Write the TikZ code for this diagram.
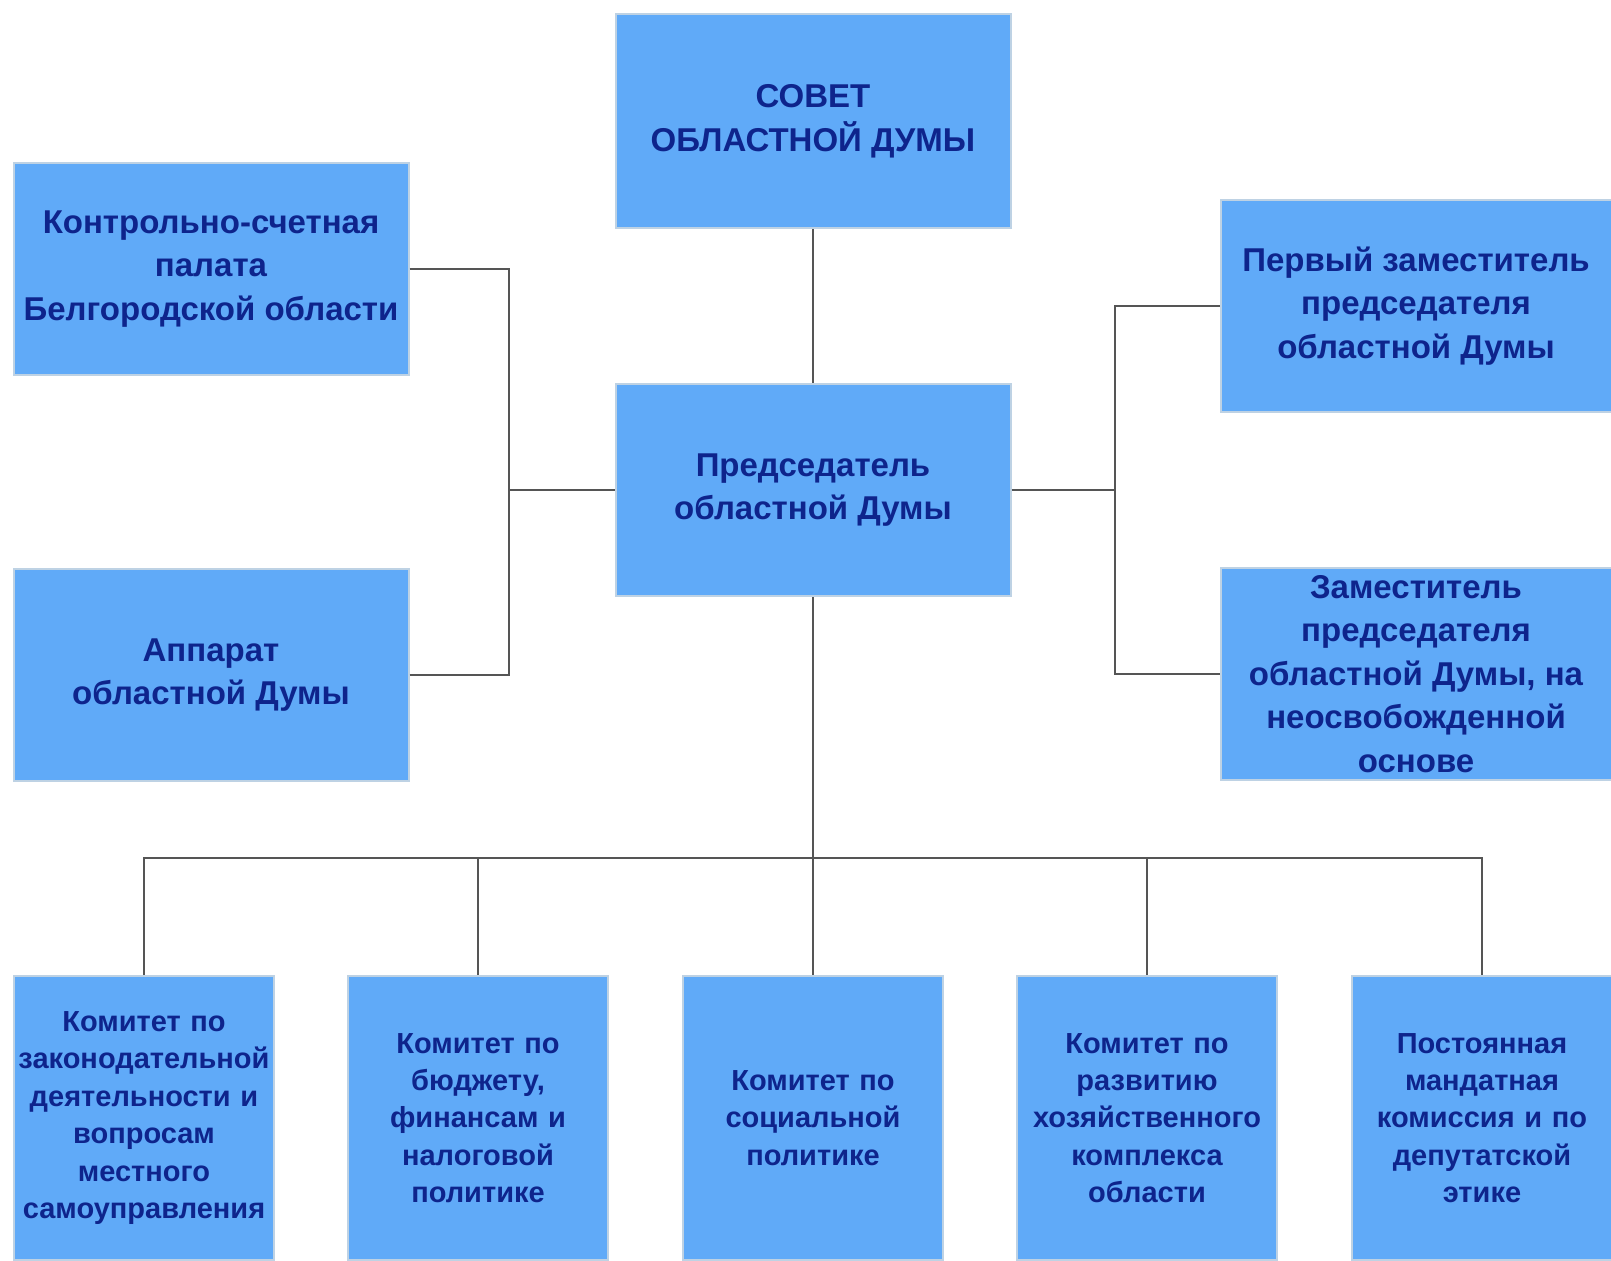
\documentclass[tikz,border=0pt]{standalone}
\usepackage{fontspec}
\setmainfont{Liberation Sans}
\usetikzlibrary{positioning}
\definecolor{dumablue}{RGB}{96,170,248}
\definecolor{dumatext}{RGB}{14,36,140}
\definecolor{dumaedge}{RGB}{190,210,228}
\definecolor{dumaline}{RGB}{85,85,85}

\begin{document}
\begin{tikzpicture}[
  x=0.5pt,y=-0.5pt,
  bigbox/.style={rectangle,draw=dumaedge,line width=1pt,fill=dumablue,text=dumatext,
        font=\fontsize{16.5}{21.8}\selectfont\bfseries,align=center,
        minimum width=197.5pt,minimum height=106pt,inner sep=2pt},
  kombox/.style={rectangle,draw=dumaedge,line width=1pt,fill=dumablue,text=dumatext,
        font=\fontsize{14.5}{18.7}\selectfont\bfseries,align=center,
        text width=126pt,minimum width=130pt,minimum height=142pt,inner sep=2pt},
  link/.style={draw=dumaline,line width=1pt}
]
\fill[white] (0,0) rectangle (1611,1260);
\useasboundingbox (0,0) rectangle (1611,1260);
\node[bigbox,minimum height=107pt] (sovet) at (813,121) {СОВЕТ\\ОБЛАСТНОЙ ДУМЫ};
\node[bigbox] (pred) at (813,490) {Председатель\\областной Думы};
\node[bigbox] (kontr) at (211,269) {Контрольно-счетная\\палата\\Белгородской области};
\node[bigbox] (apparat) at (211,675) {Аппарат\\областной Думы};
\node[bigbox,minimum width=195.5pt] (perv) at (1416,306) {Первый заместитель\\председателя\\областной Думы};
\node[bigbox,minimum width=195.5pt] (zam) at (1416,674) {Заместитель\\председателя\\областной Думы, на\\неосвобожденной\\основе};
\node[kombox] (kom1) at (144,1118) {Комитет по\\законодательной\\деятельности и\\вопросам\\местного\\самоуправления};
\node[kombox] (kom2) at (478,1118) {Комитет по\\бюджету,\\финансам и\\налоговой\\политике};
\node[kombox] (kom3) at (813,1118) {Комитет по\\социальной\\политике};
\node[kombox] (kom4) at (1147,1118) {Комитет по\\развитию\\хозяйственного\\комплекса\\области};
\node[kombox] (kom5) at (1482,1118) {Постоянная\\мандатная\\комиссия и по\\депутатской\\этике};
% bus points
\coordinate (lbus) at (509,490);
\coordinate (rbus) at (1115,490);
\coordinate (bbus) at (813,858);
\draw[link] (sovet) -- (pred);
\draw[link] (pred) -- (lbus);
\draw[link] (kontr) -| (lbus);
\draw[link] (apparat) -| (lbus);
\draw[link] (pred) -- (rbus);
\draw[link] (perv) -| (rbus);
\draw[link] (zam) -| (rbus);
\draw[link] (pred) -- (bbus);
\draw[link] (bbus) -| (kom1);
\draw[link] (bbus) -| (kom2);
\draw[link] (bbus) -- (kom3);
\draw[link] (bbus) -| (kom4);
\draw[link] (bbus) -| (kom5);
\end{tikzpicture}
\end{document}
